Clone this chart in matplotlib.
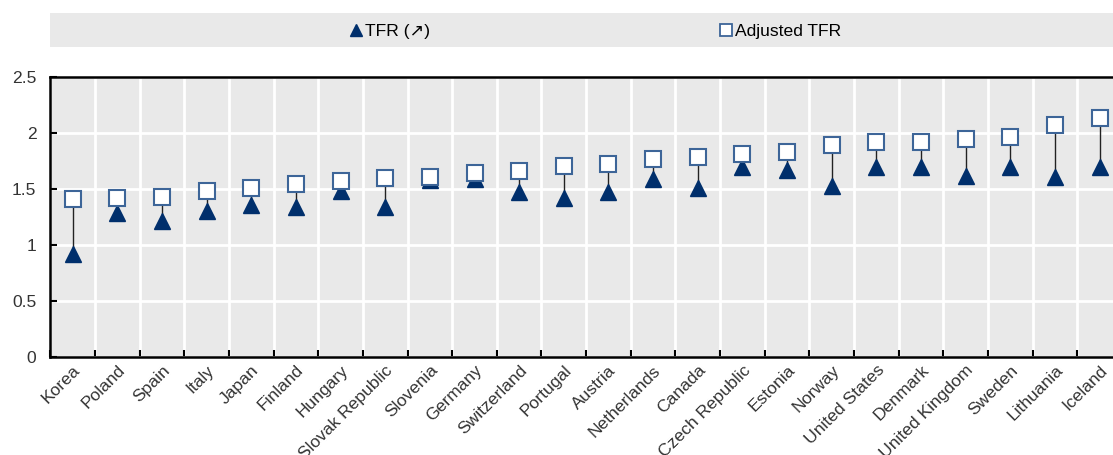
import matplotlib
matplotlib.use("Agg")
import matplotlib.pyplot as plt
from matplotlib.lines import Line2D
from matplotlib.patches import Rectangle
from matplotlib import font_manager
import numpy as np

countries = ["Korea", "Poland", "Spain", "Italy", "Japan", "Finland", "Hungary",
             "Slovak Republic", "Slovenia", "Germany", "Switzerland", "Portugal",
             "Austria", "Netherlands", "Canada", "Czech Republic", "Estonia", "Norway",
             "United States", "Denmark", "United Kingdom", "Sweden", "Lithuania", "Iceland"]
tfr = [0.92, 1.29, 1.21, 1.30, 1.36, 1.34, 1.48, 1.34, 1.58, 1.59, 1.47, 1.42,
       1.47, 1.59, 1.51, 1.70, 1.67, 1.53, 1.70, 1.70, 1.62, 1.70, 1.61, 1.70]
adjusted_tfr = [1.41, 1.42, 1.43, 1.48, 1.51, 1.545, 1.57, 1.60, 1.61, 1.645, 1.66, 1.705,
                1.72, 1.765, 1.785, 1.81, 1.83, 1.89, 1.92, 1.92, 1.945, 1.96, 2.07, 2.13]
yticks = [0, 0.5, 1, 1.5, 2, 2.5]
ytick_labels = ["0", "0.5", "1", "1.5", "2", "2.5"]

names = {f.name for f in font_manager.fontManager.ttflist}
narrow = "Liberation Sans Narrow" in names
FONT = (["Liberation Sans Narrow"] if narrow else []) + ["Liberation Sans", "DejaVu Sans"]
plt.rcParams["font.family"] = FONT
k = 1.0 if narrow else 0.9
DARK = "#002f6c"
SQ_EDGE = "#3d6598"
BG = "#e9e9e9"
TXT = "#333333"

W, H = 1113, 455
fig = plt.figure(figsize=(W / 100, H / 100), dpi=100)
ax = fig.add_axes([50.3 / W, (H - 357) / H, (1122 - 50.3) / W, 280 / H])
ax.set_facecolor(BG)

x = np.arange(len(countries))
for xi, t, a in zip(x, tfr, adjusted_tfr):
    ax.plot([xi, xi], [t, a], color="#222222", lw=1.0, zorder=2)
ax.plot(x, tfr, linestyle="none", marker="^", ms=12, color=DARK, mec=DARK, zorder=3)
ax.plot(x, adjusted_tfr, linestyle="none", marker="s", ms=11, mfc="white",
        mec=SQ_EDGE, mew=1.5, zorder=4)

ax.set_xlim(-0.5, len(countries) - 0.5)
ax.set_ylim(0, 2.5)
ax.set_yticks(yticks)
ax.set_yticklabels(ytick_labels)
ax.set_xticks(x)
ax.set_xticklabels(countries, rotation=45, ha="right", rotation_mode="anchor")
ax.set_xticks(np.arange(-0.5, len(countries), 1.0), minor=True)
ax.tick_params(axis="x", which="major", length=0, pad=4, labelsize=14 * k, labelcolor=TXT)
ax.tick_params(axis="x", which="minor", direction="in", length=5, width=1.5, color="black")
ax.tick_params(axis="y", which="major", direction="in", length=5, width=1.5,
               labelsize=14 * k, labelcolor=TXT, pad=10)
ax.grid(True, axis="y", which="major", color="white", lw=2, zorder=0)
ax.grid(True, axis="x", which="minor", color="white", lw=2, zorder=0)
ax.set_axisbelow(True)
for s in ["left", "bottom", "top"]:
    ax.spines[s].set_linewidth(1.8)
    ax.spines[s].set_color("black")
ax.spines["right"].set_visible(False)

# legend band
fig.patches.append(Rectangle((50 / W, 1 - 47 / H), 1 - 50 / W, 34 / H,
                             transform=fig.transFigure, facecolor=BG, edgecolor="none", zorder=0))
h1 = Line2D([], [], linestyle="none", marker="^", ms=9, color=DARK)
h2 = Line2D([], [], linestyle="none", marker="s", ms=8, mfc="white", mec=SQ_EDGE, mew=1.3)
ly = 1 - 31 / H
fig.legend([h1], ["TFR (\u2197)"], loc="center left", bbox_to_anchor=(350 / W, ly),
           frameon=False, fontsize=14 * k, handlelength=0.7, handletextpad=0.15,
           borderpad=0, borderaxespad=0)
fig.legend([h2], ["Adjusted TFR"], loc="center left", bbox_to_anchor=(720 / W, ly),
           frameon=False, fontsize=14 * k, handlelength=0.7, handletextpad=0.15,
           borderpad=0, borderaxespad=0)

fig.savefig("out.png", dpi=100)
